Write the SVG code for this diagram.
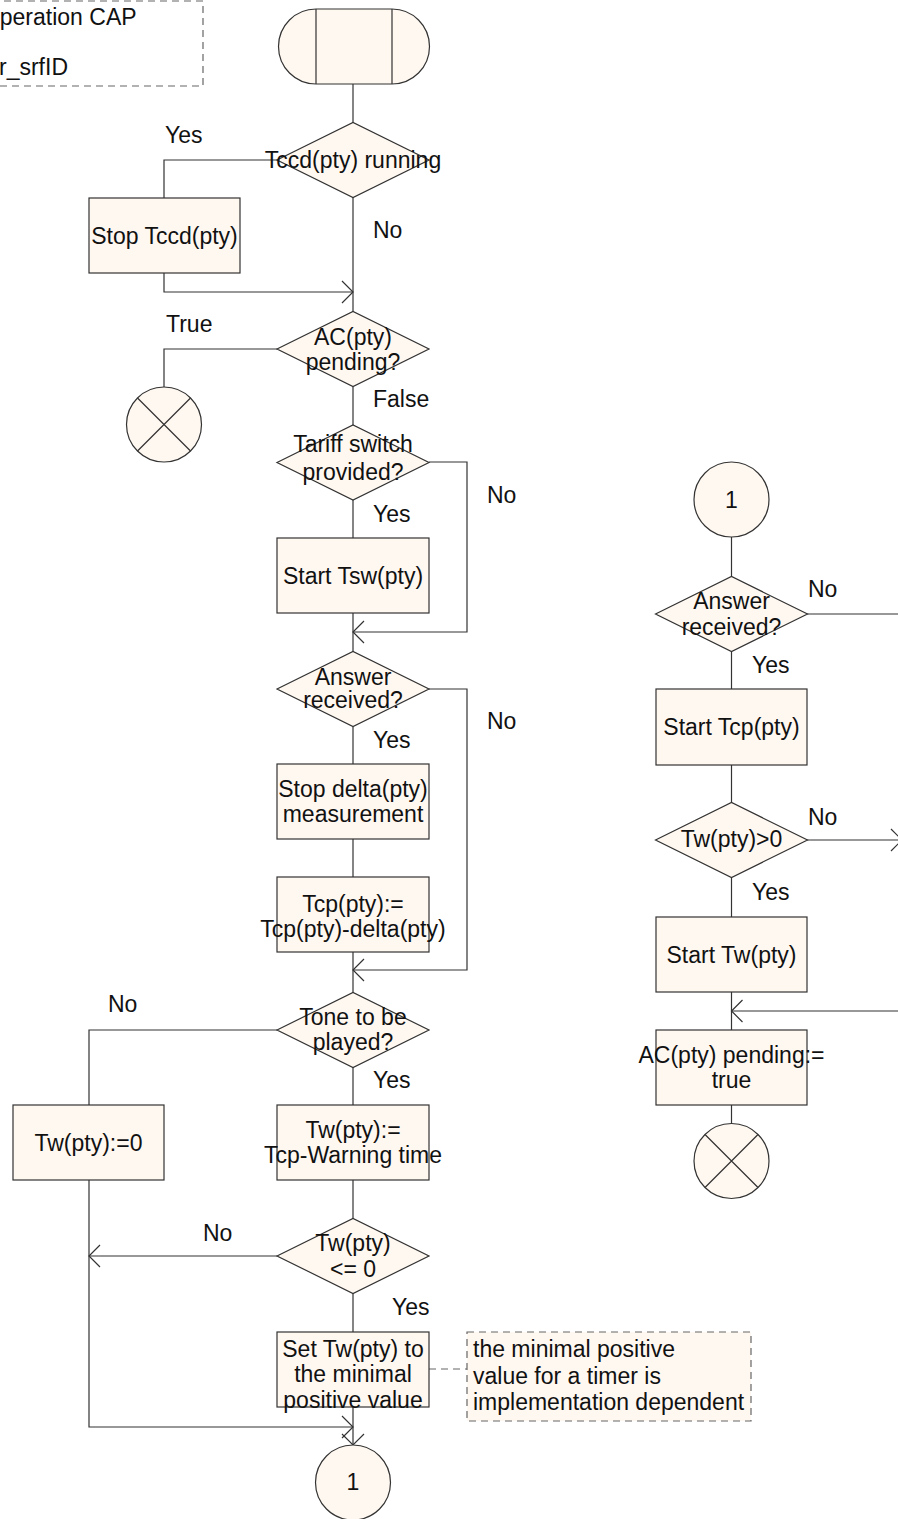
<svg xmlns="http://www.w3.org/2000/svg" width="898" height="1519" viewBox="0 0 898 1519">
<defs>
<style>
text{font-family:"Liberation Sans",Arial,sans-serif;font-size:23px;fill:#111}
.c{text-anchor:middle}
.n{fill:#fff8f1;stroke:#333;stroke-width:1.2}
.cm{fill:#fff8f1;stroke:#666;stroke-width:1.2;stroke-dasharray:7,5}
.cm0{fill:#fff;stroke:#666;stroke-width:1.2;stroke-dasharray:7,5}
.l{fill:none;stroke:#333;stroke-width:1.2}
.d{fill:none;stroke:#666;stroke-width:1.2;stroke-dasharray:7,5}
</style>
<marker id="a" markerUnits="userSpaceOnUse" markerWidth="14" markerHeight="26" refX="12" refY="12" orient="auto">
<path d="M1,1 L12,12 L1,23" fill="none" stroke="#333" stroke-width="1.2"/>
</marker>
</defs>

<g id="comment-top">
<rect class="cm0" x="-20" y="1" width="223" height="85"/>
<text x="-13" y="25">operation CAP</text>
<text x="-1" y="75">r_srfID</text>
</g>

<g id="connectors">
<path class="l" d="M353,84 V123"/>
<path class="l" d="M353,197 V312"/>
<path class="l" d="M277,160 H164 V198"/>
<path class="l" d="M164,273 V292 H353" marker-end="url(#a)"/>
<path class="l" d="M277,349 H164 V387"/>
<path class="l" d="M353,387 V425"/>
<path class="l" d="M353,500 V538"/>
<path class="l" d="M429,462 H467 V632 H353" marker-end="url(#a)"/>
<path class="l" d="M353,613 V652"/>
<path class="l" d="M353,727 V764"/>
<path class="l" d="M353,839 V877"/>
<path class="l" d="M429,689 H467 V970 H353" marker-end="url(#a)"/>
<path class="l" d="M353,952 V993"/>
<path class="l" d="M277,1030 H89 V1105"/>
<path class="l" d="M353,1067 V1105"/>
<path class="l" d="M353,1180 V1219"/>
<path class="l" d="M277,1256 H89" marker-end="url(#a)"/>
<path class="l" d="M353,1293 V1332"/>
<path class="l" d="M89,1180 V1427 H353" marker-end="url(#a)"/>
<path class="l" d="M353,1407 V1445" marker-end="url(#a)"/>
<path class="d" d="M429,1369 H467"/>
<path class="l" d="M731.5,537 V577"/>
<path class="l" d="M807,614 H898"/>
<path class="l" d="M731.5,651 V689"/>
<path class="l" d="M731.5,765 V803"/>
<path class="l" d="M807,840 H902" marker-end="url(#a)"/>
<path class="l" d="M731.5,877 V917"/>
<path class="l" d="M898,1011 H731.5" marker-end="url(#a)"/>
<path class="l" d="M731.5,992 V1030"/>
<path class="l" d="M731.5,1105 V1124"/>
</g>

<g id="labels">
<text x="165" y="143">Yes</text>
<text x="373" y="238">No</text>
<text x="166" y="332">True</text>
<text x="373" y="407">False</text>
<text x="487" y="503">No</text>
<text x="373" y="522">Yes</text>
<text x="487" y="729">No</text>
<text x="373" y="748">Yes</text>
<text x="108" y="1012">No</text>
<text x="373" y="1088">Yes</text>
<text x="203" y="1241">No</text>
<text x="392" y="1315">Yes</text>
<text x="808" y="597">No</text>
<text x="752" y="673">Yes</text>
<text x="808" y="825">No</text>
<text x="752" y="900">Yes</text>
</g>

<g id="start">
<path class="n" d="M316,9 H392 A37.5,37.5 0 0 1 392,84 H316 A37.5,37.5 0 0 1 316,9 Z"/>
<path class="l" d="M316,9 V84 M392,9 V84"/>
</g>

<g id="d-tccd">
<polygon class="n" points="277,160 353,122.5 429,160 353,197.5"/>
<text class="c" x="353" y="168">Tccd(pty) running</text>
</g>

<g id="stop-tccd">
<rect class="n" x="89" y="198" width="151" height="75"/>
<text class="c" x="164.5" y="244">Stop Tccd(pty)</text>
</g>

<g id="d-ac">
<polygon class="n" points="277,349 353,311.5 429,349 353,386.5"/>
<text class="c" x="353" y="345">AC(pty)</text>
<text class="c" x="353" y="370">pending?</text>
</g>

<g id="stop1">
<circle class="n" cx="164" cy="424.5" r="37.5"/>
<path class="l" d="M137.5,398 L190.5,451 M190.5,398 L137.5,451"/>
</g>

<g id="d-tariff">
<polygon class="n" points="277,462.5 353,425 429,462.5 353,500"/>
<text class="c" x="353" y="452">Tariff switch</text>
<text class="c" x="353" y="480">provided?</text>
</g>

<g id="start-tsw">
<rect class="n" x="277" y="538" width="152" height="75"/>
<text class="c" x="353" y="584">Start Tsw(pty)</text>
</g>

<g id="d-answer">
<polygon class="n" points="277,689 353,651.5 429,689 353,726.5"/>
<text class="c" x="353" y="685">Answer</text>
<text class="c" x="353" y="708">received?</text>
</g>

<g id="stop-delta">
<rect class="n" x="277" y="764" width="152" height="75"/>
<text class="c" x="353" y="797">Stop delta(pty)</text>
<text class="c" x="353" y="822">measurement</text>
</g>

<g id="tcp-assign">
<rect class="n" x="277" y="877" width="152" height="75"/>
<text class="c" x="353" y="912">Tcp(pty):=</text>
<text class="c" x="353" y="937">Tcp(pty)-delta(pty)</text>
</g>

<g id="d-tone">
<polygon class="n" points="277,1030 353,992.5 429,1030 353,1067.5"/>
<text class="c" x="353" y="1025">Tone to be</text>
<text class="c" x="353" y="1050">played?</text>
</g>

<g id="tw-zero">
<rect class="n" x="13" y="1105" width="151" height="75"/>
<text class="c" x="88.5" y="1151">Tw(pty):=0</text>
</g>

<g id="tw-assign">
<rect class="n" x="277" y="1105" width="152" height="75"/>
<text class="c" x="353" y="1138">Tw(pty):=</text>
<text class="c" x="353" y="1163">Tcp-Warning time</text>
</g>

<g id="d-tw-le0">
<polygon class="n" points="277,1256 353,1218.5 429,1256 353,1293.5"/>
<text class="c" x="353" y="1251">Tw(pty)</text>
<text class="c" x="353" y="1277">&lt;= 0</text>
</g>

<g id="set-tw">
<rect class="n" x="277" y="1332" width="152" height="75"/>
<text class="c" x="353" y="1357">Set Tw(pty) to</text>
<text class="c" x="353" y="1382">the minimal</text>
<text class="c" x="353" y="1408">positive value</text>
</g>

<g id="comment-min">
<rect class="cm" x="467" y="1332" width="284" height="89"/>
<text x="473" y="1357">the minimal positive</text>
<text x="473" y="1384">value for a timer is</text>
<text x="473" y="1410">implementation dependent</text>
</g>

<g id="conn-out">
<circle class="n" cx="353" cy="1482.5" r="37.5"/>
<text class="c" x="353" y="1490">1</text>
</g>

<g id="conn-in">
<circle class="n" cx="731.5" cy="499.5" r="37.5"/>
<text class="c" x="731.5" y="508">1</text>
</g>

<g id="d-answer2">
<polygon class="n" points="655.5,614 731.5,576.5 807.5,614 731.5,651.5"/>
<text class="c" x="731.5" y="609">Answer</text>
<text class="c" x="731.5" y="635">received?</text>
</g>

<g id="start-tcp">
<rect class="n" x="656" y="689" width="151" height="76"/>
<text class="c" x="731.5" y="735">Start Tcp(pty)</text>
</g>

<g id="d-tw-gt0">
<polygon class="n" points="655.5,840 731.5,802.5 807.5,840 731.5,877.5"/>
<text class="c" x="731.5" y="847">Tw(pty)&gt;0</text>
</g>

<g id="start-tw">
<rect class="n" x="656" y="917" width="151" height="75"/>
<text class="c" x="731.5" y="963">Start Tw(pty)</text>
</g>

<g id="ac-pending">
<rect class="n" x="656" y="1030" width="151" height="75"/>
<text class="c" x="731.5" y="1063">AC(pty) pending:=</text>
<text class="c" x="731.5" y="1088">true</text>
</g>

<g id="stop2">
<circle class="n" cx="731.5" cy="1161" r="37.5"/>
<path class="l" d="M705,1134.5 L758,1187.5 M758,1134.5 L705,1187.5"/>
</g>
</svg>
